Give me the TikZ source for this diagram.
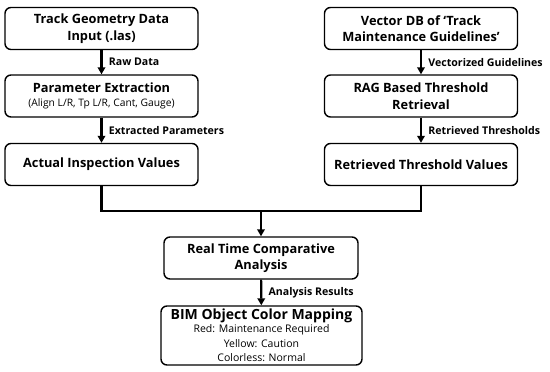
\documentclass[tikz,border=0pt]{standalone}
\usepackage{fontspec}
\setmainfont{Open Sans}
\usetikzlibrary{arrows.meta}
\begin{document}
\begin{tikzpicture}[
    x=1pt, y=-1pt,
    every node/.style={font=\bfseries\fontsize{12.8}{16.5}\selectfont},
    block/.style={rectangle, draw, line width=1.4pt, rounded corners=6pt, align=center, minimum width=193pt, minimum height=42pt, inner sep=2pt},
    arrow/.style={-{Triangle[length=7pt,width=7.5pt]}, line width=2.2pt},
    line/.style={line width=2.2pt},
    label/.style={font=\bfseries\fontsize{10.6}{12}\selectfont, anchor=west}
]
\useasboundingbox (0,0) rectangle (550,372);
% -------------------------
% Left Column (Inspection Data)
% -------------------------
    \node[block] (input) at (101.5, 28.5) {Track Geometry Data\\Input (.las)};
    \node[block] (extract) at (101.5, 96) {Parameter Extraction\\[-3pt]{\normalfont\fontsize{10.3}{13}\selectfont (Align L/R, Tp L/R, Cant, Gauge)}};
    \node[block] (actual) at (101.5, 164.5) {Actual Inspection Values};

% -------------------------
% Right Column (Guidelines)
% -------------------------
    \node[block] (vectordb) at (421, 28.5) {Vector DB of `Track\\Maintenance Guidelines'};
    \node[block] (rag) at (421, 96) {RAG Based Threshold\\Retrieval};
    \node[block] (retrieved) at (421, 164.5) {Retrieved Threshold Values};

% -------------------------
% Bottom (Comparison and Mapping)
% -------------------------
    \coordinate (merge) at (261, 211);
    \node[block, minimum width=194pt] (analysis) at (261, 258) {Real Time Comparative\\Analysis};
    \node[block, minimum width=201pt, minimum height=59pt, inner sep=1pt] (mapping) at (261.5, 335.5) {{\fontsize{14}{16}\selectfont BIM Object Color Mapping}\\[-3pt]
        {\normalfont\fontsize{10.5}{14}\selectfont Red: Maintenance Required}\\[-2pt]
        {\normalfont\fontsize{10.5}{14}\selectfont Yellow: Caution}\\[-2pt]
        {\normalfont\fontsize{10.5}{14}\selectfont Colorless: Normal}};

% -------------------------
% Arrows & Labels
% -------------------------
    \draw[arrow] (input) -- (extract) node[label, midway, xshift=3pt] {Raw Data};
    \draw[arrow] (extract) -- (actual) node[label, midway, xshift=3pt] {Extracted Parameters};
    \draw[arrow] (vectordb) -- (rag) node[label, midway, xshift=3pt] {Vectorized Guidelines};
    \draw[arrow] (rag) -- (retrieved) node[label, midway, xshift=3pt] {Retrieved Thresholds};
    \draw[line] (actual.south) |- (merge) -| (retrieved.south);
    \draw[arrow] (merge) -- (analysis.north);
    \draw[arrow] (analysis) -- (mapping) node[label, midway, xshift=3pt] {Analysis Results};
\end{tikzpicture}
\end{document}
